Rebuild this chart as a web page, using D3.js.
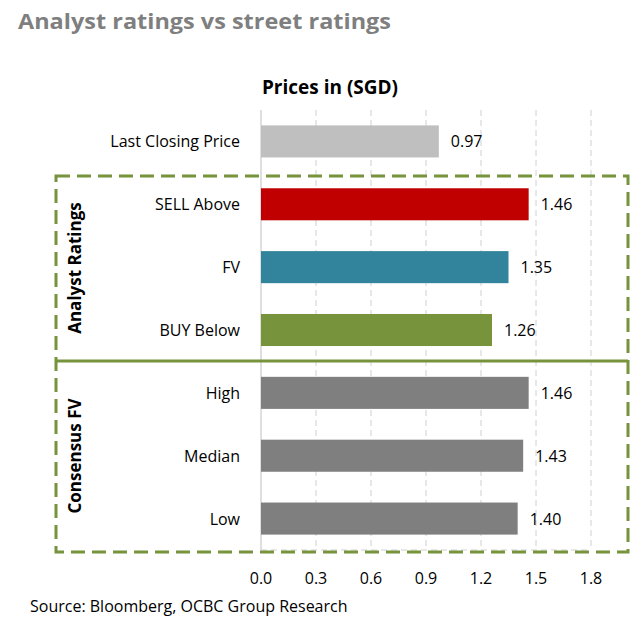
<!DOCTYPE html>
<html><head><meta charset="utf-8">
<script src="https://cdn.jsdelivr.net/npm/d3@7"></script>
<style>body{margin:0;background:#fff}svg{font-family:"Open Sans",sans-serif}</style>
</head><body><svg id="c" width="640" height="627"></svg>
<script>
const categories=["Last Closing Price","SELL Above","FV","BUY Below","High","Median","Low"];
const values=[0.97,1.46,1.35,1.26,1.46,1.43,1.40];
const colors=["#BFBFBF","#C00000","#31849B","#77933C","#7F7F7F","#7F7F7F","#7F7F7F"];
const ticks=[0,0.3,0.6,0.9,1.2,1.5,1.8];
const svg=d3.select("#c");
const x=d3.scaleLinear().domain([0,1.8]).range([261,591]);
const y=d3.scaleBand().domain(categories).range([110,550]).paddingInner(0.49).paddingOuter(0.245);
svg.append("text").attr("x",18).attr("y",29).attr("font-size",21).attr("font-weight","bold").attr("fill","#7F7F7F").attr("textLength",373).attr("lengthAdjust","spacingAndGlyphs").text("Analyst ratings vs street ratings");
svg.append("text").attr("x",330).attr("y",94).attr("text-anchor","middle").attr("font-size",19).attr("font-weight","bold").attr("fill","#000").text("Prices in (SGD)");
svg.selectAll(".g").data(ticks.slice(1)).join("line").attr("x1",d=>x(d)).attr("x2",d=>x(d)).attr("y1",110).attr("y2",550).attr("stroke","#D0D0D0").attr("stroke-dasharray","6,4");
svg.append("line").attr("x1",261).attr("x2",591).attr("y1",550).attr("y2",550).attr("stroke","#D0D0D0").attr("stroke-dasharray","6,4");
svg.append("line").attr("x1",261).attr("x2",261).attr("y1",110).attr("y2",550).attr("stroke","#BFBFBF");
svg.selectAll(".b").data(values).join("rect").attr("x",x(0)).attr("y",(d,i)=>y(categories[i])).attr("width",d=>x(d)-x(0)).attr("height",y.bandwidth()).attr("fill",(d,i)=>colors[i]);
svg.selectAll(".v").data(values).join("text").attr("x",d=>x(d)+12).attr("y",(d,i)=>y(categories[i])+y.bandwidth()/2+6).attr("font-size",16).text(d=>d.toFixed(2));
svg.selectAll(".c").data(categories).join("text").attr("x",240).attr("y",d=>y(d)+y.bandwidth()/2+6).attr("text-anchor","end").attr("font-size",16).text(d=>d);
svg.selectAll(".t").data(ticks).join("text").attr("x",d=>x(d)).attr("y",584).attr("text-anchor","middle").attr("font-size",16).text(d=>d.toFixed(1));
const g="#77933C";
svg.append("rect").attr("x",56).attr("y",176).attr("width",572).attr("height",376).attr("fill","none").attr("stroke",g).attr("stroke-width",3).attr("stroke-dasharray","14,7");
svg.append("line").attr("x1",56).attr("x2",628).attr("y1",361).attr("y2",361).attr("stroke",g).attr("stroke-width",3);
svg.append("text").attr("transform","translate(81,268) rotate(-90)").attr("text-anchor","middle").attr("font-size",17).attr("font-weight","bold").text("Analyst Ratings");
svg.append("text").attr("transform","translate(81,456) rotate(-90)").attr("text-anchor","middle").attr("font-size",17).attr("font-weight","bold").text("Consensus FV");
svg.append("text").attr("x",30).attr("y",612).attr("font-size",16).text("Source: Bloomberg, OCBC Group Research");
</script></body></html>
